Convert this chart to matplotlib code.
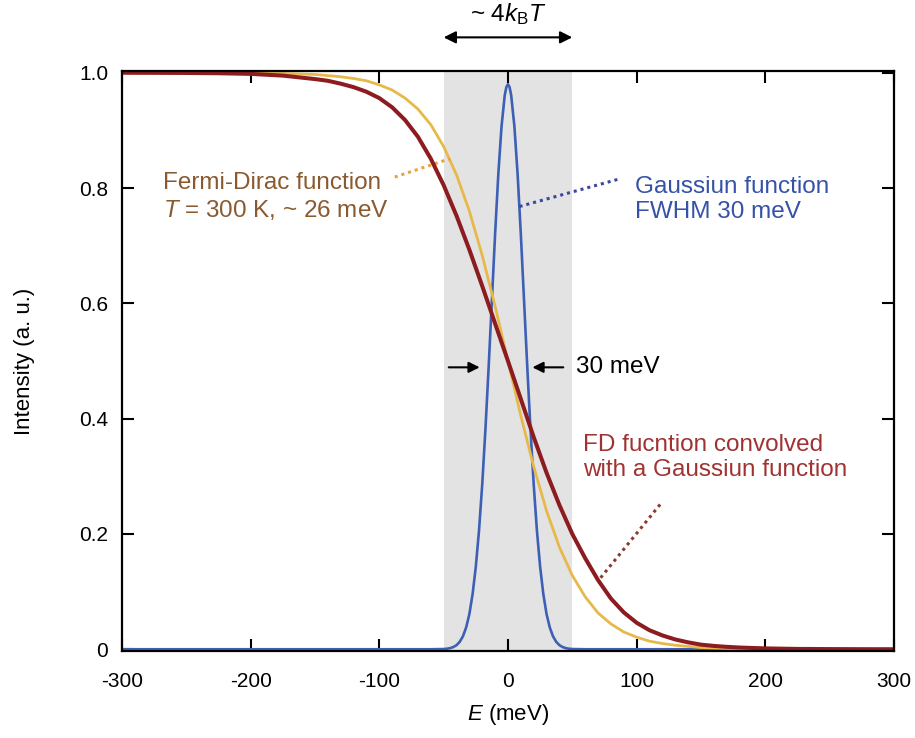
import numpy as np
import matplotlib
matplotlib.use("Agg")
import matplotlib.pyplot as plt

plt.rcParams["font.family"] = ["Liberation Sans", "DejaVu Sans"]
plt.rcParams["mathtext.fontset"] = "custom"
plt.rcParams["mathtext.rm"] = "Liberation Sans"
plt.rcParams["mathtext.it"] = "Liberation Sans:italic"
plt.rcParams["axes.unicode_minus"] = False

# Fermi-Dirac function, T = 300 K
E_fd = [-300, -250, -200, -175, -150, -140, -130, -120, -110, -100, -90, -80, -70, -60,
        -50, -40, -30, -20, -10, 0, 10, 20, 30, 40, 50, 60, 70, 80, 90, 100, 110, 120,
        130, 140, 150, 175, 200, 250, 300]
I_fd = [1.0, 0.9999, 0.9995, 0.9988, 0.997, 0.995, 0.993, 0.990, 0.986, 0.979, 0.970,
        0.956, 0.937, 0.910, 0.872, 0.823, 0.760, 0.683, 0.595, 0.5, 0.405, 0.317, 0.240,
        0.177, 0.128, 0.091, 0.063, 0.044, 0.030, 0.021, 0.014, 0.010, 0.007, 0.005,
        0.003, 0.0012, 0.0005, 0.0001, 0.0]

# FD convolved with the Gaussian
E_conv = [-300, -250, -225, -200, -175, -150, -140, -130, -120, -110, -100, -90, -80, -70,
          -60, -50, -40, -30, -20, -10, 0, 10, 20, 30, 40, 50, 60, 70, 80, 90, 100, 110,
          120, 130, 140, 150, 160, 170, 180, 200, 225, 250, 275, 300]
I_conv = [1.0, 0.9996, 0.9991, 0.998, 0.995, 0.989, 0.986, 0.981, 0.975, 0.967, 0.956,
          0.940, 0.918, 0.889, 0.851, 0.805, 0.752, 0.693, 0.630, 0.565, 0.5, 0.434, 0.368,
          0.306, 0.250, 0.200, 0.158, 0.120, 0.088, 0.064, 0.046, 0.033, 0.024, 0.017,
          0.012, 0.008, 0.0058, 0.0042, 0.003, 0.0015, 0.0006, 0.0003, 0.0001, 0.0]

# Gaussian, FWHM 30 meV
E_g = [-300, -60, -50, -47.5, -45, -42.5, -40, -37.5, -35, -32.5, -30, -27.5, -25, -22.5,
       -20, -17.5, -15, -12.5, -10, -7.5, -5, -2.5, -1.25, 0, 1.25, 2.5, 5, 7.5, 10, 12.5,
       15, 17.5, 20, 22.5, 25, 27.5, 30, 32.5, 35, 37.5, 40, 42.5, 45, 47.5, 50, 60, 300]
I_g = [0.0, 0.0, 0.0004, 0.0009, 0.0019, 0.0038, 0.0071, 0.0129, 0.0225, 0.0378, 0.061,
       0.0954, 0.143, 0.206, 0.286, 0.382, 0.490, 0.605, 0.720, 0.824, 0.907, 0.961, 0.975,
       0.980, 0.975, 0.961, 0.907, 0.824, 0.720, 0.605, 0.490, 0.382, 0.286, 0.206, 0.143,
       0.0954, 0.061, 0.0378, 0.0225, 0.0129, 0.0071, 0.0038, 0.0019, 0.0009, 0.0004,
       0.0, 0.0]

band = (-50, 50)
xticks = [-300, -200, -100, 0, 100, 200, 300]
yticks = [0, 0.2, 0.4, 0.6, 0.8, 1.0]
ylabels = ["0", "0.2", "0.4", "0.6", "0.8", "1.0"]

c_fd = "#e6b94a"
c_conv = "#8c1c1f"
c_g = "#3d5fb5"
fs_note = 17.5

fig = plt.figure(figsize=(9.15, 7.38), dpi=100)
ax = fig.add_axes([0.1333, 0.1179, 0.8437, 0.7859])

ax.axvspan(band[0], band[1], color="#e3e3e3", lw=0, zorder=0)
ax.plot(E_g, I_g, color=c_g, lw=1.9, zorder=2)
ax.plot(E_fd, I_fd, color=c_fd, lw=2.0, zorder=3)
ax.plot(E_conv, I_conv, color=c_conv, lw=2.9, zorder=4)

ax.set_xlim(-300, 300)
ax.set_ylim(-0.003, 1.003)
ax.set_xticks(xticks)
ax.set_yticks(yticks)
ax.set_yticklabels(ylabels)
ax.tick_params(direction="in", length=8.5, width=1.5, top=True, right=True,
               labelsize=15)
ax.tick_params(axis="x", pad=15)
ax.tick_params(axis="y", pad=10)
for s in ax.spines.values():
    s.set_linewidth(1.6)
    s.set_zorder(5)

ax.set_xlabel("$E$ (meV)", fontsize=16, labelpad=8)
ax.set_ylabel("Intensity (a. u.)", fontsize=16, labelpad=32)

# ~4kBT arrow above the axes
ax.annotate("", xy=(band[0], 1.058), xytext=(band[1], 1.058),
            xycoords=("data", "axes fraction"),
            arrowprops=dict(arrowstyle="<|-|>", color="black", lw=1.5,
                            mutation_scale=18, shrinkA=0, shrinkB=0),
            annotation_clip=False)
ax.text(0, 1.098, "~ 4$k_\\mathrm{B}T$", transform=ax.get_xaxis_transform(),
        ha="center", va="center", fontsize=fs_note)

# Fermi-Dirac label
ax.text(-268, 0.785, "Fermi-Dirac function\n$T$ = 300 K, ~ 26 meV", color="#8a5a2e",
        fontsize=fs_note, ha="left", va="center", linespacing=1.2)
ax.plot([-88, -45], [0.819, 0.851], color="#eba23c", lw=2.2, ls=(0, (1, 1.3)), zorder=3)

# Gaussian label
ax.text(99, 0.78, "Gaussiun function\nFWHM 30 meV", color="#3552a8",
        fontsize=fs_note, ha="left", va="center", linespacing=1.2)
ax.plot([9, 87], [0.768, 0.816], color="#3a48a0", lw=2.2, ls=(0, (1, 1.3)), zorder=3)

# FWHM arrows
ax.annotate("", xy=(-22, 0.489), xytext=(-46, 0.489),
            arrowprops=dict(arrowstyle="-|>", color="black", lw=1.5,
                            mutation_scale=16, shrinkA=0, shrinkB=0))
ax.annotate("", xy=(19, 0.489), xytext=(43, 0.489),
            arrowprops=dict(arrowstyle="-|>", color="black", lw=1.5,
                            mutation_scale=16, shrinkA=0, shrinkB=0))
ax.text(53, 0.489, "30 meV", fontsize=fs_note, ha="left", va="center")

# Convolved label
ax.text(58, 0.333, "FD fucntion convolved\nwith a Gaussiun function", color="#a03232",
        fontsize=fs_note, ha="left", va="center", linespacing=1.2)
ax.plot([72, 120], [0.124, 0.256], color="#8c3a2c", lw=2.2, ls=(0, (1, 1.3)), zorder=3)

fig.savefig("out.png", dpi=100)
